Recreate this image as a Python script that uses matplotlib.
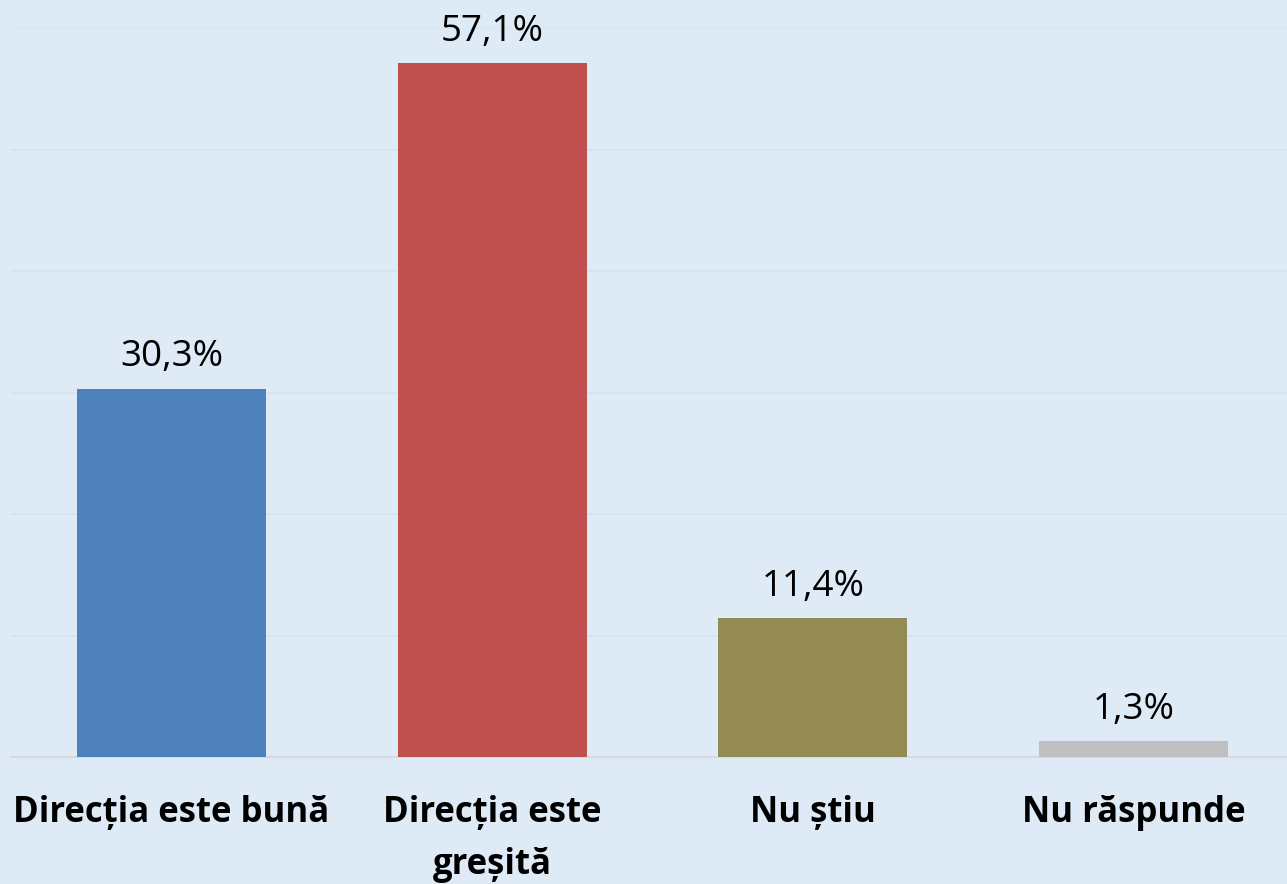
import matplotlib
matplotlib.use("Agg")
import matplotlib.pyplot as plt

categories = ["Direcția este bună", "Direcția este\ngreșită", "Nu știu", "Nu răspunde"]
values = [30.3, 57.1, 11.4, 1.3]
labels = ["30,3%", "57,1%", "11,4%", "1,3%"]
colors = ["#4F81BD", "#C0504D", "#948A54", "#BFBFBF"]
bg = "#DEEAF6"

plt.rcParams["font.family"] = ["Open Sans", "DejaVu Sans"]

fig = plt.figure(figsize=(12.87, 8.84), dpi=100, facecolor=bg)
ax = fig.add_axes([11 / 1287, 127 / 884, 1283 / 1287, (757 - 28) / 884])
ax.set_facecolor(bg)

x = range(len(categories))
ax.bar(x, values, width=0.59, color=colors, zorder=3)

for xi, v, lab in zip(x, values, labels):
    ax.text(xi, v + 1.1, lab, ha="center", va="bottom", fontsize=26.5, color="black")

ax.set_xlim(-0.5, 3.5)
ax.set_ylim(0, 60)
ax.set_yticks(range(0, 61, 10))
ax.yaxis.grid(True, color="#D5E2F0", linewidth=1.2, zorder=0)
ax.tick_params(axis="y", left=False, labelleft=False)
ax.tick_params(axis="x", bottom=False, pad=24)
ax.set_xticks(list(x))
ax.set_xticklabels(categories, fontsize=25, fontweight="bold", linespacing=1.6, va="top")

for s in ["top", "left", "right"]:
    ax.spines[s].set_visible(False)
ax.spines["bottom"].set_color("#D9D9D9")
ax.spines["bottom"].set_linewidth(1.5)

fig.savefig("out.png", dpi=100, facecolor=bg)
